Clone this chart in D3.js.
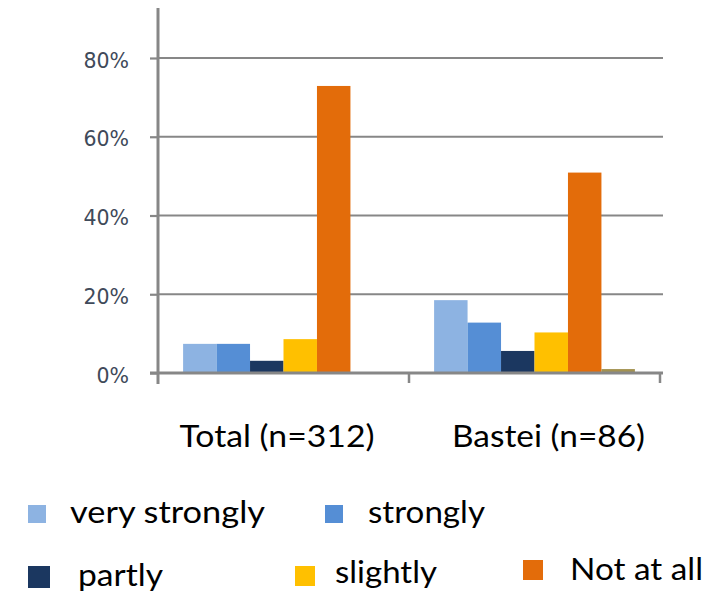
<!DOCTYPE html>
<html>
<head>
<meta charset="utf-8">
<script src="https://cdn.jsdelivr.net/npm/d3@7"></script>
<style>
  html, body { margin: 0; padding: 0; background: #ffffff; }
  svg { display: block; }
</style>
</head>
<body>
<svg id="chart" width="711" height="594"></svg>
<script>
// Survey answers by group, share of respondents (%)
const categories = ["Total (n=312)", "Bastei (n=86)"];
const seriesNames = ["very strongly", "strongly", "partly", "slightly", "Not at all", "No answer"];
const totalValues  = [7.4, 7.4, 3.1, 8.6, 72.9, 0];
const basteiValues = [18.5, 12.8, 5.6, 10.3, 50.9, 1.0];
const yTicks = [0, 20, 40, 60, 80];
const colors = ["#8DB3E2", "#558ED5", "#1B3760", "#FFC000", "#E36C0A", "#A39250"];
const legendNames = ["very strongly", "strongly", "partly", "slightly", "Not at all"];

const rows = categories.map((c, i) => ({
  category: c,
  values: (i === 0 ? totalValues : basteiValues)
}));

const svg = d3.select("#chart");
const axisColor = "#878787";
const labelFont = "Lato, 'Open Sans', sans-serif";

// Scales
const y = d3.scaleLinear().domain([0, 80]).range([373, 58]);
const x0 = d3.scaleBand().domain(categories).range([158, 660]).paddingInner(0).paddingOuter(0);
const x1 = d3.scaleBand().domain(seriesNames).range([0, x0.bandwidth()]).paddingInner(0).paddingOuter(0.75);
const color = d3.scaleOrdinal().domain(seriesNames).range(colors);

// Horizontal gridlines
svg.append("g")
  .selectAll("line")
  .data(yTicks.filter(t => t > 0))
  .join("line")
  .attr("x1", 158).attr("x2", 663)
  .attr("y1", d => y(d)).attr("y2", d => y(d))
  .attr("stroke", axisColor).attr("stroke-width", 2.2);

// Y axis with percent labels
const yAxis = svg.append("g")
  .attr("transform", "translate(158,0)")
  .call(d3.axisLeft(y).tickValues(yTicks).tickSize(8).tickPadding(21).tickFormat(d => d + "%"));
yAxis.select(".domain").remove();
yAxis.selectAll(".tick line").attr("stroke", axisColor).attr("stroke-width", 2.2);
yAxis.selectAll(".tick text")
  .attr("fill", "#3f4a5a")
  .attr("dy", "0.45em")
  .style("font-family", "'DejaVu Sans', Verdana, sans-serif")
  .style("font-size", "20.5px");
svg.append("line")
  .attr("x1", 158).attr("x2", 158).attr("y1", 8).attr("y2", 384)
  .attr("stroke", axisColor).attr("stroke-width", 3);

// Bars
const groups = svg.append("g")
  .selectAll("g")
  .data(rows)
  .join("g")
  .attr("transform", d => `translate(${x0(d.category)},0)`);
groups.selectAll("rect")
  .data(d => d.values.map((v, i) => ({ name: seriesNames[i], value: v })))
  .join("rect")
  .attr("x", d => x1(d.name))
  .attr("width", x1.bandwidth())
  .attr("y", d => y(d.value))
  .attr("height", d => y(0) - y(d.value))
  .attr("fill", d => color(d.name));

// X axis line and group boundary ticks
svg.append("line")
  .attr("x1", 150).attr("x2", 663).attr("y1", y(0)).attr("y2", y(0))
  .attr("stroke", axisColor).attr("stroke-width", 3);
const boundaries = categories.map(c => x0(c) + x0.bandwidth());
svg.append("g")
  .selectAll("line")
  .data(boundaries)
  .join("line")
  .attr("x1", d => d).attr("x2", d => d)
  .attr("y1", y(0)).attr("y2", y(0) + 10)
  .attr("stroke", axisColor).attr("stroke-width", 2.5);

// Category labels
const catLabelShift = [-6.5, 14];
const catLabelWidth = [195, 193];
svg.append("g")
  .selectAll("text")
  .data(categories)
  .join("text")
  .attr("x", (d, i) => x0(d) + x0.bandwidth() / 2 + catLabelShift[i])
  .attr("y", 447)
  .attr("text-anchor", "middle")
  .attr("textLength", (d, i) => catLabelWidth[i])
  .attr("lengthAdjust", "spacingAndGlyphs")
  .attr("fill", "#000")
  .style("font-family", labelFont)
  .style("font-size", "31px")
  .text(d => d);

// Legend
const legendLayout = [
  { sx: 28, sy: 505, ss: 18, tx: 70, ty: 523, tw: 195 },
  { sx: 325, sy: 505, ss: 18, tx: 368, ty: 523, tw: 117 },
  { sx: 28, sy: 566, ss: 22, tx: 78, ty: 586, tw: 85 },
  { sx: 295, sy: 566, ss: 20, tx: 335, ty: 583, tw: 102 },
  { sx: 523, sy: 560, ss: 20, tx: 570, ty: 580, tw: 133 }
];
const legend = svg.append("g")
  .selectAll("g")
  .data(legendNames)
  .join("g");
legend.append("rect")
  .attr("x", (d, i) => legendLayout[i].sx)
  .attr("y", (d, i) => legendLayout[i].sy)
  .attr("width", (d, i) => legendLayout[i].ss)
  .attr("height", (d, i) => legendLayout[i].ss)
  .attr("fill", d => color(d));
legend.append("text")
  .attr("x", (d, i) => legendLayout[i].tx)
  .attr("y", (d, i) => legendLayout[i].ty)
  .attr("textLength", (d, i) => legendLayout[i].tw)
  .attr("lengthAdjust", "spacingAndGlyphs")
  .attr("fill", "#000")
  .style("font-family", labelFont)
  .style("font-size", "31px")
  .text(d => d);
</script>
</body>
</html>
